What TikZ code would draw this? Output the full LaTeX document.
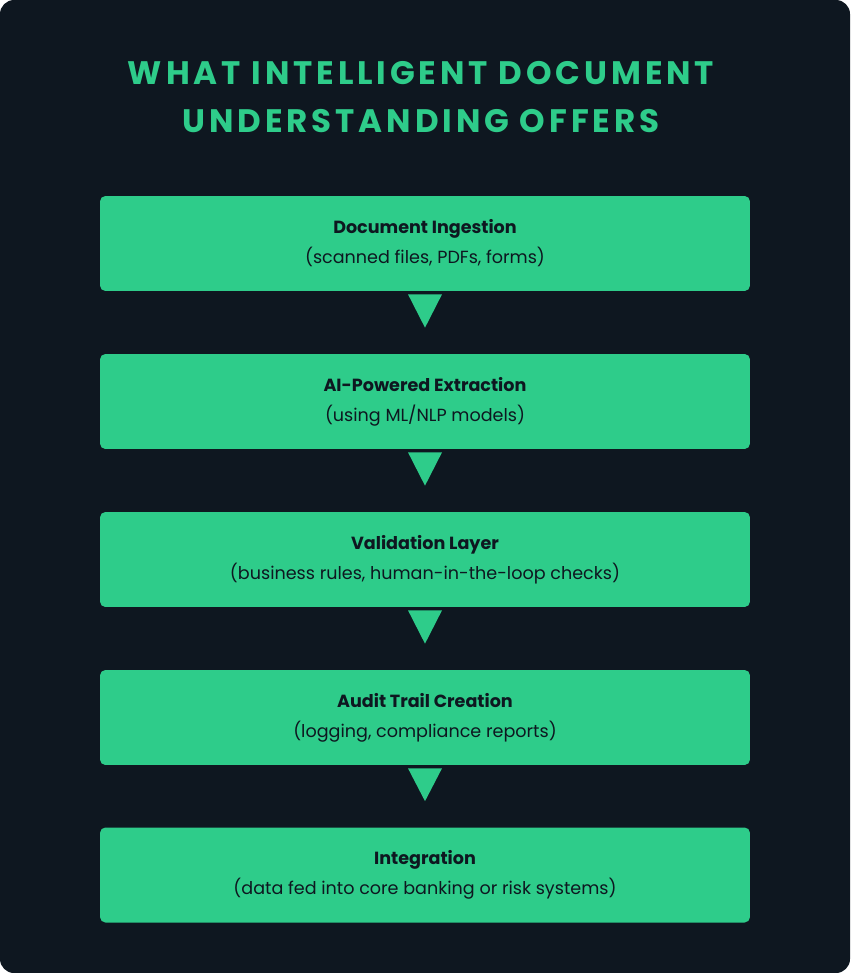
\documentclass[tikz,border=0pt]{standalone}
\usepackage{fontspec}
\setmainfont{Poppins}
\newfontfamily\titlefont[LetterSpace=12]{Poppins}
\usetikzlibrary{positioning, calc}
\definecolor{bgdark}{HTML}{0E1720}
\definecolor{mint}{HTML}{2ECC8A}
\tikzset{
  stage/.style={rectangle, rounded corners=3pt, fill=mint, text=bgdark,
    minimum width=13cm, minimum height=1.9cm, align=center, inner sep=0pt,
    font=\fontsize{10}{17}\selectfont},
  pointer/.style={fill=mint}
}
\newcommand{\stagetext}[2]{\textbf{#1}\\#2}
\begin{document}
\begin{tikzpicture}[x=0.02cm, y=-0.02cm]
\fill[bgdark, rounded corners=8pt] (0,0) rectangle (850,973);
\useasboundingbox (0,0) rectangle (850,973);

% Title
\node (title) [text=mint, align=center, font=\titlefont\bfseries\fontsize{18.5}{27}\selectfont]
  at (421,97) {WHAT INTELLIGENT DOCUMENT\\UNDERSTANDING OFFERS};

% Stages
\node (ingest) [stage] at (425,243.5)
  {\stagetext{Document Ingestion}{(scanned files, PDFs, forms)}};
\node (extract) [stage] at (425,401.5)
  {\stagetext{AI-Powered Extraction}{(using ML/NLP models)}};
\node (validate) [stage] at (425,559.5)
  {\stagetext{Validation Layer}{(business rules, human-in-the-loop checks)}};
\node (audit) [stage] at (425,717.5)
  {\stagetext{Audit Trail Creation}{(logging, compliance reports)}};
\node (integrate) [stage] at (425,875)
  {\stagetext{Integration}{(data fed into core banking or risk systems)}};

% Triangle pointers between stages
\foreach \a/\b in {ingest/extract, extract/validate, validate/audit, audit/integrate}
  \fill[pointer] ($(\a.south)+(-17,3)$) -- ($(\a.south)+(17,3)$)
    -- ($(\b.north)+(0,-26)$) -- cycle;
\end{tikzpicture}
\end{document}
